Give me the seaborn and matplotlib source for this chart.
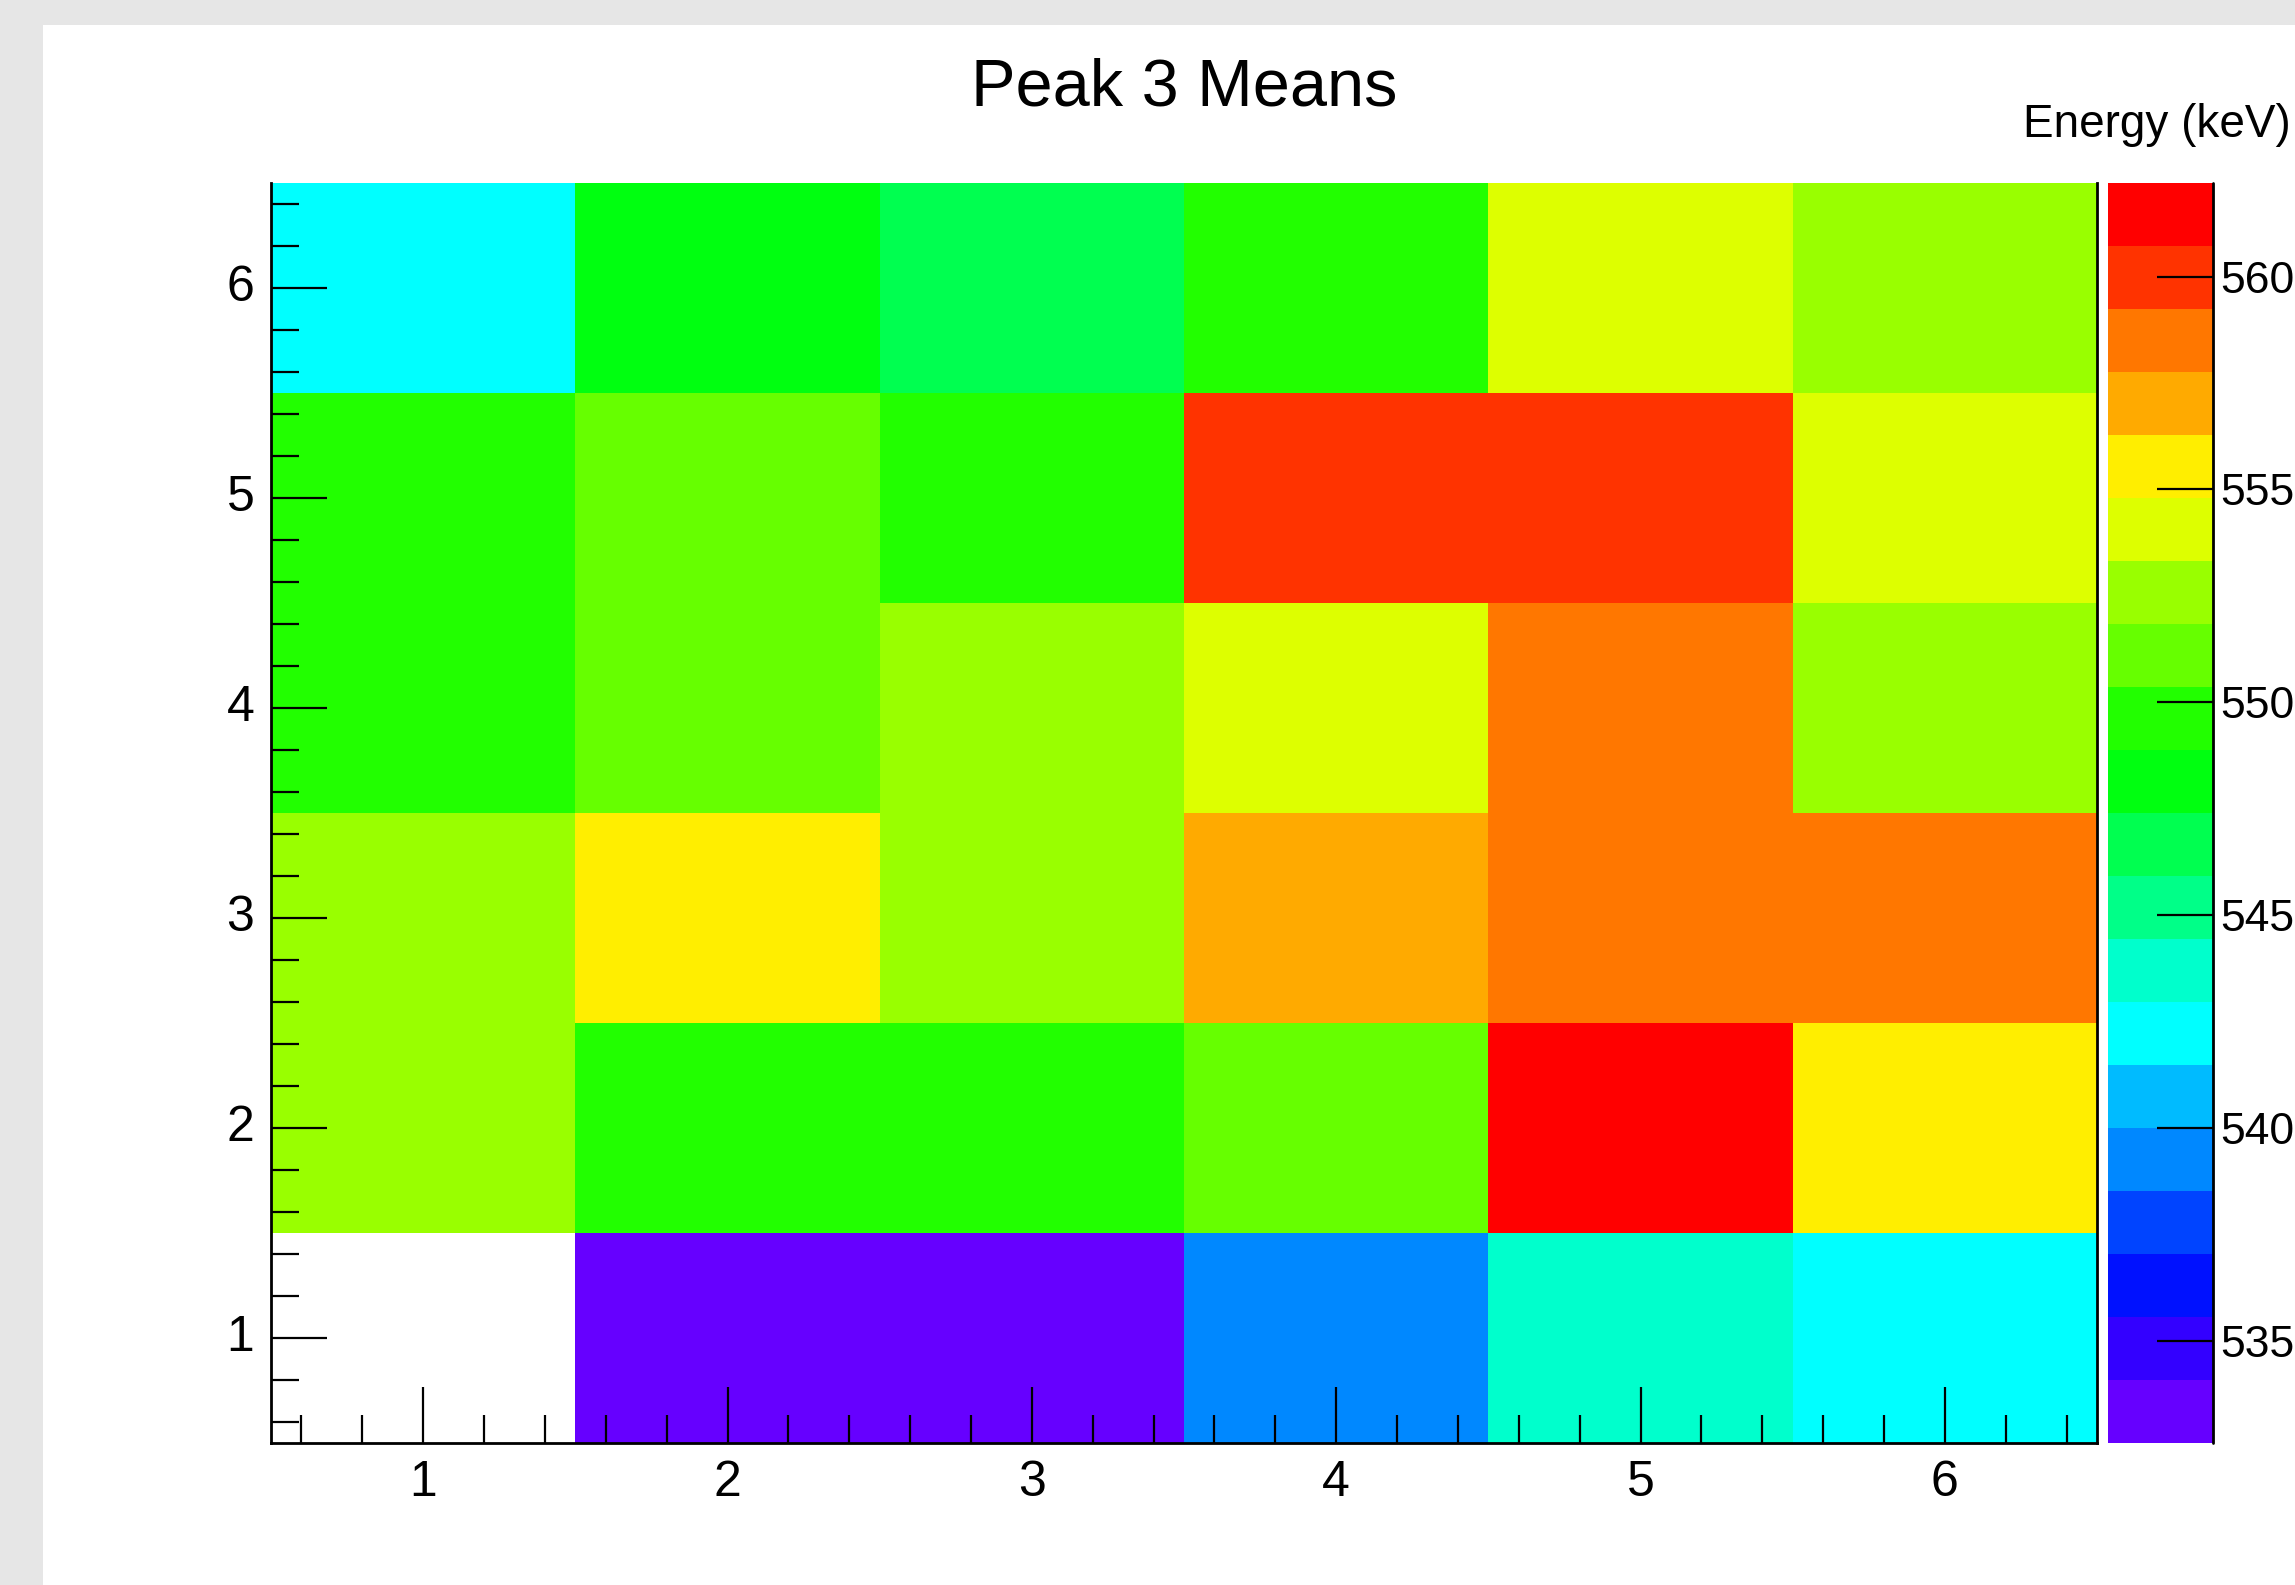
import numpy as np
import pandas as pd
import seaborn as sns
import matplotlib.pyplot as plt
from matplotlib.colors import ListedColormap
from matplotlib.patches import Rectangle
from matplotlib.ticker import FixedLocator

# peak 3 mean energies (keV), rows from y=1 (bottom) to y=6 (top), columns x=1..6
row_1 = [np.nan, 532.6, 533.4, 539.3, 543.8, 542.2]
row_2 = [552.7, 549.7, 549.5, 551.2, 562.2, 555.6]
row_3 = [552.6, 555.5, 552.8, 557.0, 558.5, 558.6]
row_4 = [549.6, 551.1, 552.7, 554.1, 558.6, 552.6]
row_5 = [549.8, 551.3, 549.6, 560.1, 560.0, 554.2]
row_6 = [542.3, 548.2, 546.7, 549.7, 554.0, 552.7]
x_bins = [1, 2, 3, 4, 5, 6]
y_bins = [1, 2, 3, 4, 5, 6]
z_ticks = [535, 540, 545, 550, 555, 560]

# ROOT-like rainbow with 20 contour levels
palette = ['#6600ff', '#3300ff', '#0011ff', '#0044ff', '#0088ff',
           '#00bbff', '#00ffff', '#00ffcc', '#00ff88', '#00ff50',
           '#00ff10', '#22ff00', '#66ff00', '#99ff00', '#ddff00',
           '#ffee00', '#ffaa00', '#ff7700', '#ff3300', '#ff0000']

df = pd.DataFrame([row_1, row_2, row_3, row_4, row_5, row_6],
                  index=y_bins, columns=x_bins)

sns.set_style('white')
plt.rcParams['font.family'] = ['Liberation Sans Narrow', 'DejaVu Sans Condensed',
                               'Liberation Sans', 'DejaVu Sans']
plt.rcParams['text.color'] = 'black'
plt.rcParams['xtick.color'] = 'black'
plt.rcParams['ytick.color'] = 'black'

W, H = 2295, 1585
fig = plt.figure(figsize=(W / 100, H / 100), dpi=100)
fig.patch.set_facecolor('#e6e6e6')
fig.patches.append(Rectangle((43 / W, 0), 1 - 43 / W, 1 - 25 / H,
                             transform=fig.transFigure, facecolor='white',
                             edgecolor='none', zorder=-10))

left, right, top, bottom = 271, 2097, 183, 1443
ax = fig.add_axes([left / W, 1 - bottom / H, (right - left) / W, (bottom - top) / H])
cax = fig.add_axes([2108 / W, 1 - bottom / H, 105 / W, (bottom - top) / H])

vmin = np.nanmin(df.values)
vmax = np.nanmax(df.values)
sns.heatmap(df, ax=ax, cbar_ax=cax, cmap=ListedColormap(palette),
            vmin=vmin, vmax=vmax, linewidths=0)
ax.set_facecolor('white')
ax.set_axisbelow(False)
cax.set_axisbelow(False)
ax.set_ylim(0, 6)
ax.set_xlim(0, 6)
ax.set_xlabel('')
ax.set_ylabel('')

# ticks at bin centres, minor every 0.2
major = [v - 0.5 for v in x_bins]
minor = [round(0.6 + 0.2 * i, 1) - 0.5 for i in range(30)]
for axis in (ax.xaxis, ax.yaxis):
    axis.set_major_locator(FixedLocator(major))
    axis.set_minor_locator(FixedLocator(minor))
ax.set_xticklabels([str(v) for v in x_bins], rotation=0)
ax.set_yticklabels([str(v) for v in y_bins], rotation=0)
ax.tick_params(which='major', direction='in', length=40, width=1.6,
               labelsize=36, pad=12, color='black', labelcolor='black')
ax.tick_params(which='minor', direction='in', length=20, width=1.6, color='black')
ax.tick_params(axis='x', which='both', bottom=True, top=False)
ax.tick_params(axis='y', which='both', left=True, right=False)

for side in ['left', 'bottom', 'right']:
    ax.spines[side].set_visible(True)
    ax.spines[side].set_color('black')
    ax.spines[side].set_linewidth(2)
    ax.spines[side].set_zorder(5)
ax.spines['top'].set_visible(False)

cb = ax.collections[0].colorbar
cb.set_ticks(z_ticks)
cb.outline.set_visible(False)
cax.tick_params(direction='in', length=40, width=1.6, labelsize=32, pad=5,
                right=True, left=False, color='black', labelcolor='black')
cax.axvline(1, color='black', lw=2, clip_on=False, zorder=5)
cax.minorticks_off()

fig.text(1184 / W, 1 - 105 / H, 'Peak 3 Means', ha='center', va='baseline',
         fontsize=48)
fig.text(2291 / W, 1 - 137 / H, 'Energy (keV)', ha='right', va='baseline',
         fontsize=33)

fig.savefig('out.png', dpi=100, facecolor=fig.get_facecolor())
